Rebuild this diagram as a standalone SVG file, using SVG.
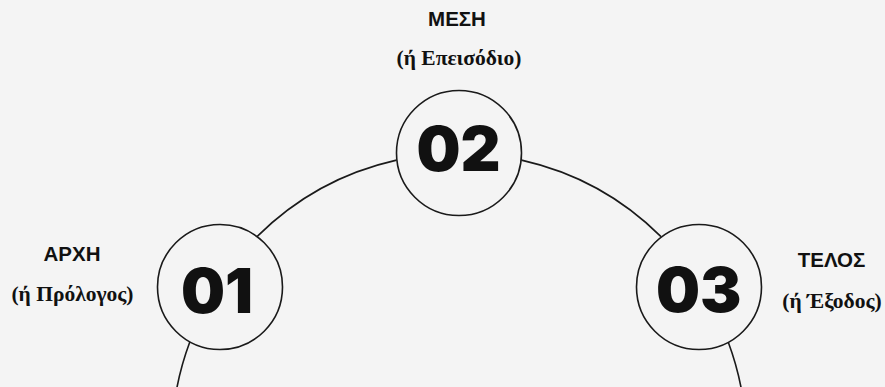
<svg xmlns="http://www.w3.org/2000/svg" width="885" height="387" viewBox="0 0 885 387">
<style>
.bg{fill:#f4f4f4}
.arc{fill:none;stroke:#1a1a1a;stroke-width:1.6}
.node{fill:#f4f4f4;stroke:#1a1a1a;stroke-width:1.6}
.num{font-family:Inter,"Liberation Sans",sans-serif;font-weight:900;font-size:62px;fill:#111;text-anchor:middle}
.title{font-family:"Liberation Sans",Arial,sans-serif;font-weight:bold;font-size:20.5px;fill:#111;text-anchor:middle}
.sub{font-family:"Liberation Serif","Times New Roman",serif;font-weight:bold;font-size:21.5px;fill:#111;text-anchor:middle}
</style>
<rect class="bg" x="0" y="0" width="885" height="387"/>
<g id="connectors">
<path class="arc" d="M174.8,400 A287,287 0 0 1 189.8,342"/>
<path class="arc" d="M257,236.6 A287,287 0 0 1 396.5,160.1"/>
<path class="arc" d="M521.5,160.1 A287,287 0 0 1 661,236.6"/>
<path class="arc" d="M728.2,342 A287,287 0 0 1 743.2,400"/>
</g>
<g id="node-01">
<circle class="node" cx="220" cy="287" r="62.5"/>
<text class="num" x="217" y="312.5">01</text>
<text class="title" x="72" y="260.5">ΑΡΧΗ</text>
<text class="sub" x="72.5" y="301">(ή Πρόλογος)</text>
</g>
<g id="node-02">
<circle class="node" cx="459" cy="153" r="62.5"/>
<text class="num" x="458.5" y="171">02</text>
<text class="title" x="457" y="26">ΜΕΣΗ</text>
<text class="sub" x="459" y="65">(ή Επεισόδιο)</text>
</g>
<g id="node-03">
<circle class="node" cx="699" cy="287" r="62.5"/>
<text class="num" x="698.7" y="312">03</text>
<text class="title" x="831.5" y="266.5">ΤΕΛΟΣ</text>
<text class="sub" x="832" y="308">(ή Έξοδος)</text>
</g>
</svg>
